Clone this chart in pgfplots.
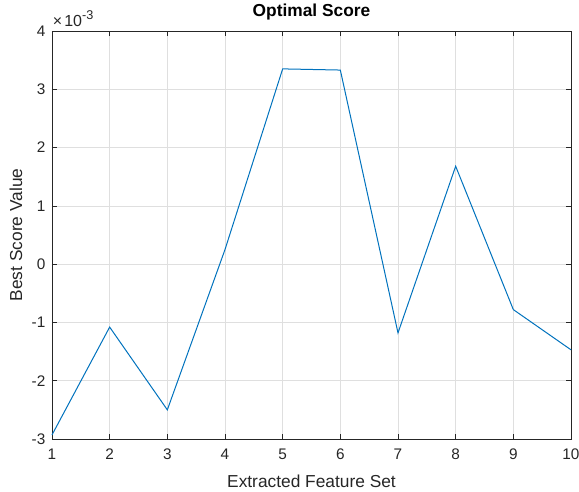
\documentclass[border=0pt]{standalone}
\usepackage{pgfplots}
\pgfplotsset{compat=1.18}
\usepackage{fontspec}
\setmainfont{Liberation Sans}
\definecolor{mblue}{HTML}{0072BD}
\definecolor{mtext}{HTML}{262626}
\definecolor{mgrid}{HTML}{DFDFDF}
\begin{document}
\begin{tikzpicture}
\useasboundingbox (-39pt,-39.75pt) rectangle (395.25pt,329.25pt);
\begin{axis}[
  scale only axis,
  width=389.25pt, height=306pt,
  xmin=1, xmax=10, ymin=-3, ymax=4,
  xtick={1,...,10}, ytick={-3,...,4},
  tick pos=both, tick align=inside,
  major tick length=4pt,
  grid=major,
  clip=false,
  major grid style={mgrid, line width=0.5pt},
  axis line style={mtext, line width=0.6pt},
  every tick/.style={mtext, line width=0.5pt},
  tick label style={font=\fontsize{11.5}{13}\selectfont, text=mtext},
  xticklabel style={yshift=-4pt},
  yticklabel style={xshift=-1.5pt},
  /pgf/number format/assume math mode=true,
  title={\textbf{Optimal Score}},
  every axis title shift=0pt,
  title style={font=\fontsize{13}{15}\selectfont, text=black, at={(axis description cs:0.5,1.0458)}, anchor=center},
  xlabel={Extracted Feature Set},
  ylabel={Best Score Value},
  label style={font=\fontsize{13}{15}\selectfont, text=mtext},
  xlabel style={at={(axis description cs:0.5,-0.103)}, anchor=center},
  ylabel style={at={(axis description cs:-0.0694,0.5)}, anchor=center},
]
\addplot[mblue, line width=0.75pt] coordinates {
(1,-2.93) (2,-1.08) (3,-2.50) (4,0.25) (5,3.35) (6,3.33) (7,-1.18) (8,1.68) (9,-0.78) (10,-1.47)
};
\node[anchor=base west, text=mtext, inner sep=0pt] at ([xshift=0.5pt,yshift=3.75pt]rel axis cs:0,1) {\fontsize{12}{14}\selectfont ×\kern1.5pt10\raisebox{4.8pt}{\fontsize{9.5}{10}\selectfont -3}};
\end{axis}
\end{tikzpicture}
\end{document}
